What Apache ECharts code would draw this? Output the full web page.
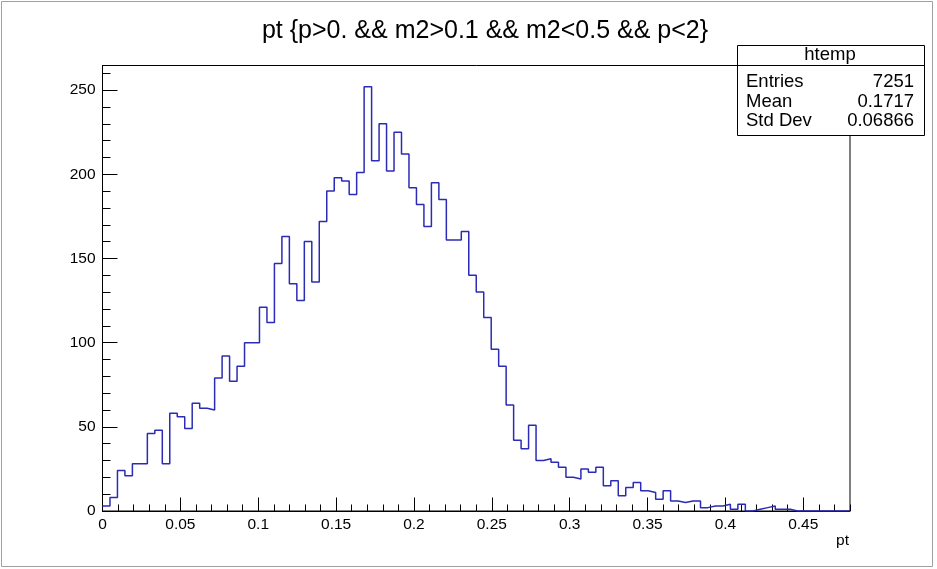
<!DOCTYPE html>
<html><head><meta charset="utf-8">
<script src="https://cdn.jsdelivr.net/npm/echarts@6/dist/echarts.min.js"></script>
<style>html,body{margin:0;padding:0;background:#fff}#c{width:937px;height:569px}</style>
</head><body><div id="c"></div>
<script>
const titleText = 'pt {p>0. && m2>0.1 && m2<0.5 && p<2}';
const xAxisName = 'pt';
const xMin = 0, xMax = 0.48, nBins = 100;
const yMin = 0, yMax = 264.6;
const xTickLabels = ['0', '0.05', '0.1', '0.15', '0.2', '0.25', '0.3', '0.35', '0.4', '0.45'];
const yTickLabels = ['0', '50', '100', '150', '200', '250'];
const binCounts = [
  3, 8, 24, 21, 28, 28, 46, 48, 28, 58,
  56, 49, 64, 61, 60, 79, 92, 77, 86, 100,
  100, 121, 112, 147, 163, 135, 125, 160, 136, 172,
  190, 198, 196, 188, 201, 252, 208, 230, 202, 225,
  212, 192, 182, 169, 195, 185, 161, 161, 166, 140,
  130, 115, 96, 86, 63, 42, 37, 51, 30, 31,
  29, 26, 20, 19, 25, 23, 26, 15, 18, 9,
  14, 17, 12, 11, 7, 12, 6, 5, 6, 6,
  2, 3, 3, 4, 1, 4, 0, 1, 2, 3,
  1, 1, 0, 0, 0, 0, 0, 0, 0, 0
];
const statsTitle = 'htemp';
const statsLabels = ['Entries', 'Mean', 'Std Dev'];
const statsValues = ['7251', '0.1717', '0.06866'];

const FONT = '"Liberation Sans", Arial, Helvetica, sans-serif';
const binW = (xMax - xMin) / nBins;
const stepData = binCounts.map((v, i) => [xMin + i * binW, v]);
stepData.push([xMax, binCounts[nBins - 1]]);

const G = {left: 102.5, top: 65.5, width: 747.5, height: 445.5};

const chart = echarts.init(document.getElementById('c'), null, {renderer: 'canvas'});

const statsGraphics = [
  {type: 'rect', shape: {x: 737.5, y: 45.5, width: 187, height: 90}, style: {fill: '#fff', stroke: '#000', lineWidth: 1}, z: 100},
  {type: 'line', shape: {x1: 737.5, y1: 65.5, x2: 924.5, y2: 65.5}, style: {stroke: '#000', lineWidth: 1}, z: 101},
  {type: 'text', x: 830, y: 55, style: {text: statsTitle, font: '18.5px ' + FONT, fill: '#000', textAlign: 'center', textVerticalAlign: 'middle'}, z: 102}
];
statsLabels.forEach((lab, i) => {
  statsGraphics.push({type: 'text', x: 746, y: 82 + i * 19.5, style: {text: lab, font: '18.5px ' + FONT, fill: '#000', textAlign: 'left', textVerticalAlign: 'middle'}, z: 102});
  statsGraphics.push({type: 'text', x: 914, y: 82 + i * 19.5, style: {text: statsValues[i], font: '18.5px ' + FONT, fill: '#000', textAlign: 'right', textVerticalAlign: 'middle'}, z: 102});
});

const axisCommon = {
  splitLine: {show: false},
  axisLine: {show: false},
};

chart.setOption({
  animation: false,
  backgroundColor: '#fff',
  grid: Object.assign({show: true, borderColor: '#000', borderWidth: 1, backgroundColor: 'transparent', containLabel: false}, G),
  xAxis: [
    Object.assign({}, axisCommon, {
      type: 'value', min: xMin, max: xMax, interval: 0.05, position: 'bottom',
      axisLine: {show: true, onZero: false, lineStyle: {color: '#000', width: 1}},
      axisTick: {show: true, inside: true, length: 13.5, lineStyle: {color: '#000', width: 1}},
      axisLabel: {show: true, margin: 6, color: '#000', fontSize: 15.5, fontFamily: FONT,
        showMaxLabel: false,
        formatter: (v, idx) => (xTickLabels[idx] !== undefined ? xTickLabels[idx] : '')}
    }),
    Object.assign({}, axisCommon, {
      type: 'value', min: xMin, max: xMax, interval: 0.01, position: 'bottom',
      axisTick: {show: true, inside: true, length: 6.5, lineStyle: {color: '#000', width: 1}},
      axisLabel: {show: false}
    })
  ],
  yAxis: [
    Object.assign({}, axisCommon, {
      type: 'value', min: yMin, max: yMax, interval: 50, position: 'left',
      axisLine: {show: true, onZero: false, lineStyle: {color: '#000', width: 1}},
      axisTick: {show: true, inside: true, length: 15, lineStyle: {color: '#000', width: 1}},
      axisLabel: {show: true, margin: 7, color: '#000', fontSize: 15.5, fontFamily: FONT,
        showMaxLabel: false,
        formatter: (v, idx) => (yTickLabels[idx] !== undefined ? yTickLabels[idx] : '')}
    }),
    Object.assign({}, axisCommon, {
      type: 'value', min: yMin, max: yMax, interval: 10, position: 'left',
      axisTick: {show: true, inside: true, length: 8, lineStyle: {color: '#000', width: 1}},
      axisLabel: {show: false}
    })
  ],
  series: [{
    type: 'line', step: 'end', data: stepData, xAxisIndex: 0, yAxisIndex: 0,
    symbol: 'none', showSymbol: false, clip: true, z: 5,
    lineStyle: {color: '#2b2bb5', width: 1.5}
  }],
  graphic: [
    {type: 'rect', shape: {x: 1.5, y: 1.5, width: 931, height: 565}, style: {fill: 'none', stroke: '#a0a0a0', lineWidth: 1}, z: 0, silent: true},
    {type: 'text', x: 485, y: 31, style: {text: titleText, font: '25px ' + FONT, fill: '#000', textAlign: 'center', textVerticalAlign: 'middle'}, z: 50},
    {type: 'text', x: 849, y: 541, style: {text: xAxisName, font: '15.5px ' + FONT, fill: '#000', textAlign: 'right', textVerticalAlign: 'middle'}, z: 50}
  ].concat(statsGraphics)
});
</script>
</body></html>
